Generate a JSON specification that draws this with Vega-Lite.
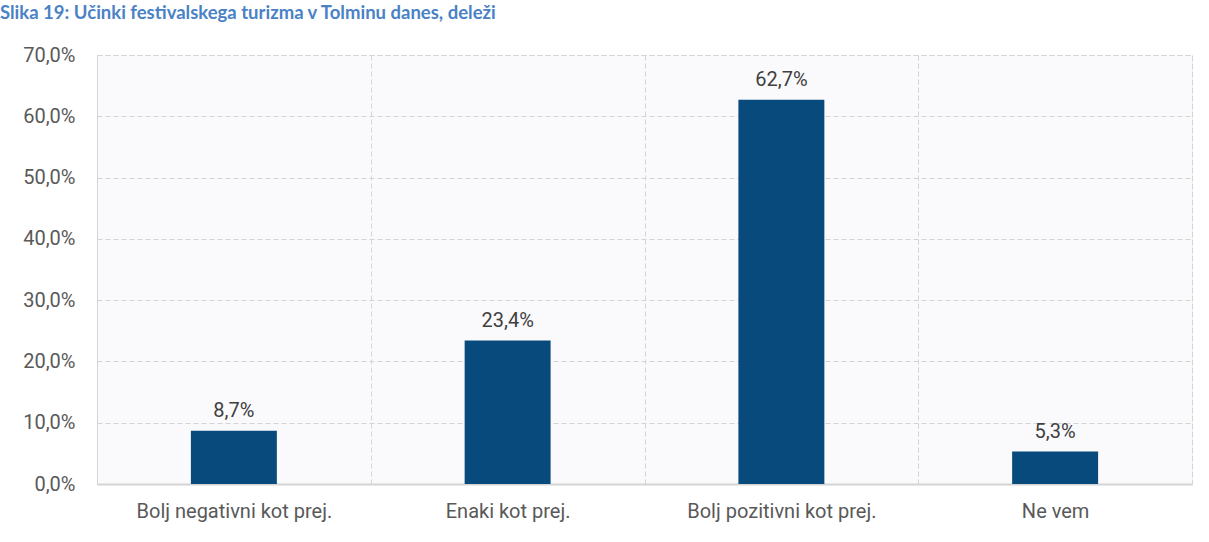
{
  "$schema": "https://vega.github.io/schema/vega-lite/v6.json",
  "width": 1095,
  "height": 429,
  "autosize": {"type": "none"},
  "padding": {"left": 97, "top": 55, "right": 17, "bottom": 58},
  "background": "#ffffff",
  "title": {
    "text": "Slika 19: Učinki festivalskega turizma v Tolminu danes, deleži",
    "anchor": "start",
    "frame": "group",
    "orient": "top",
    "dx": -97,
    "dy": -8,
    "offset": 0,
    "font": "Lato",
    "fontSize": 18.5,
    "fontWeight": "bold",
    "color": "#4a82c6",
    "baseline": "alphabetic"
  },
  "config": {
    "locale": {"number": {"decimal": ",", "thousands": ".", "grouping": [3], "currency": ["", " €"]}},
    "view": {"fill": "#fafafc", "stroke": "#d4d4d4", "strokeDash": [5, 3], "strokeWidth": 1},
    "font": "Roboto"
  },
  "data": {
    "values": [
      {"kategorija": "Bolj negativni kot prej.", "delez": 0.087},
      {"kategorija": "Enaki kot prej.", "delez": 0.234},
      {"kategorija": "Bolj pozitivni kot prej.", "delez": 0.627},
      {"kategorija": "Ne vem", "delez": 0.053}
    ]
  },
  "encoding": {
    "x": {
      "field": "kategorija",
      "type": "nominal",
      "sort": null,
      "scale": {"paddingInner": 0, "paddingOuter": 0},
      "axis": {
        "title": null,
        "labelAngle": 0,
        "labelFont": "Roboto",
        "labelFontSize": 20,
        "labelLimit": 0,
        "labelColor": "#595959",
        "labelPadding": 17,
        "ticks": false,
        "domain": true,
        "domainColor": "#d4d4d4",
        "domainWidth": 2,
        "grid": true,
        "tickBand": "extent",
        "gridColor": "#d4d4d4",
        "gridDash": [5, 3],
        "gridWidth": 1
      }
    },
    "y": {
      "field": "delez",
      "type": "quantitative",
      "scale": {"domain": [0, 0.7], "nice": false},
      "axis": {
        "title": null,
        "format": ".1%",
        "values": [0, 0.1, 0.2, 0.3, 0.4, 0.5, 0.6, 0.7],
        "labelFont": "Roboto",
        "labelFontSize": 20,
        "labelColor": "#595959",
        "labelPadding": 22,
        "ticks": false,
        "domain": false,
        "grid": true,
        "gridColor": "#d4d4d4",
        "gridDash": [5, 3],
        "gridWidth": 1
      }
    }
  },
  "layer": [
    {
      "mark": {"type": "bar", "color": "#074a7b", "width": {"band": 0.314}}
    },
    {
      "mark": {"type": "text", "baseline": "bottom", "dy": -10, "font": "Roboto", "fontSize": 20, "color": "#404040"},
      "encoding": {"text": {"field": "delez", "type": "quantitative", "format": ".1%"}}
    }
  ]
}
